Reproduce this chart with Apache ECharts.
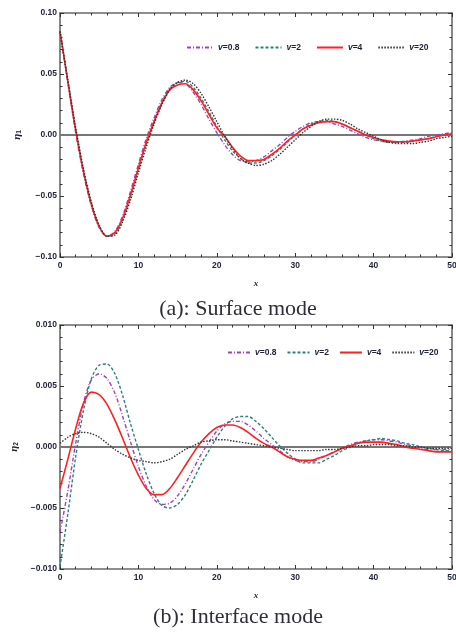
<!DOCTYPE html>
<html>
<head>
<meta charset="utf-8">
<script src="https://cdn.jsdelivr.net/npm/echarts@6/dist/echarts.min.js"></script>
<style>
  html, body { margin: 0; padding: 0; background: #fff; }
  #main { width: 456px; height: 632px; }
</style>
</head>
<body>
<div id="main"></div>
<script>
var chartDom = document.getElementById('main');
var myChart = echarts.init(chartDom);
var option;

// x positions (shared by both panels)
let xs = [0,1,2,3,4,5,6,7,8,9,10,11,12,13,14,15,16,17,18,19,20,21,22,23,24,25,
  26,27,28,29,30,31,32,33,34,35,36,37,38,39,40,41,42,43,44,45,46,47,48,49,50];

let legendNames = ['v=0.8', 'v=2', 'v=4', 'v=20'];

// (a) surface mode, eta1
let eta1_v08 = [0.085,0.043,0.002,-0.032,-0.058,-0.076,-0.083,-0.079,-0.066,-0.046,-0.024,-0.003,0.014,0.029,0.039,0.043,0.042,0.035,0.025,0.013,0.002,
  -0.008,-0.016,-0.021,-0.022,-0.021,-0.018,-0.013,-0.008,-0.002,0.003,0.007,0.010,0.011,0.011,0.009,0.007,0.004,0.001,-0.002,-0.004,
  -0.005,-0.006,-0.006,-0.005,-0.004,-0.003,-0.001,0.000,0.001,0.002];
let eta1_v2 = [0.085,0.044,0.004,-0.030,-0.056,-0.075,-0.083,-0.081,-0.069,-0.050,-0.028,-0.007,0.011,0.027,0.038,0.043,0.044,0.039,0.030,0.019,0.007,
  -0.004,-0.013,-0.019,-0.023,-0.023,-0.021,-0.017,-0.012,-0.006,0.000,0.005,0.009,0.011,0.012,0.011,0.009,0.006,0.003,0.000,-0.003,
  -0.005,-0.006,-0.006,-0.006,-0.005,-0.004,-0.003,-0.001,0.000,0.001];
let eta1_v4 = [0.085,0.044,0.004,-0.030,-0.057,-0.075,-0.083,-0.080,-0.068,-0.049,-0.027,-0.006,0.011,0.026,0.037,0.041,0.042,0.037,0.028,0.017,0.006,
  -0.001,-0.010,-0.017,-0.021,-0.021,-0.020,-0.016,-0.011,-0.005,0.000,0.005,0.008,0.010,0.011,0.011,0.009,0.006,0.003,0.000,-0.002,
  -0.004,-0.005,-0.0055,-0.0055,-0.005,-0.004,-0.003,-0.0015,0.000,0.001];
let eta1_v20 = [0.085,0.045,0.006,-0.028,-0.055,-0.074,-0.083,-0.082,-0.071,-0.053,-0.031,-0.010,0.009,0.025,0.037,0.043,0.045,0.042,0.034,0.023,0.011,
  -0.001,-0.011,-0.019,-0.023,-0.025,-0.024,-0.021,-0.016,-0.010,-0.004,0.002,0.007,0.011,0.013,0.013,0.012,0.009,0.005,0.002,-0.001,
  -0.004,-0.006,-0.007,-0.007,-0.007,-0.006,-0.005,-0.003,-0.002,-0.001];

// (b) interface mode, eta2
let eta2_v08 = [-0.0070,-0.0036,0.0003,0.0036,0.0055,0.0060,0.0056,0.0044,0.0025,0.0004,-0.0016,-0.0032,-0.0043,-0.0047,-0.0046,-0.0040,-0.0030,
  -0.0018,-0.0006,0.0004,0.0013,0.0019,0.0021,0.0021,0.0018,0.0013,0.0007,0.0002,-0.0003,-0.0008,-0.0011,-0.0012,-0.0012,-0.0010,
  -0.0007,-0.0004,-0.0001,0.0002,0.0004,0.0005,0.0006,0.0006,0.0005,0.0004,0.0002,0.0001,-0.0001,-0.0002,-0.0002,-0.0002,-0.0002];
let eta2_v2 = [-0.0098,-0.0055,-0.0008,0.0030,0.0056,0.0067,0.0068,0.0060,0.0042,0.0019,-0.0002,-0.0022,-0.0038,-0.0048,-0.0050,-0.0047,-0.0039,
  -0.0027,-0.0014,-0.0003,0.0008,0.0017,0.0023,0.0025,0.0025,0.0021,0.0015,0.0008,0.0001,-0.0005,-0.0010,-0.0013,-0.0013,-0.0013,
  -0.0010,-0.0007,-0.0003,0.0000,0.0003,0.0005,0.0006,0.0007,0.0006,0.0005,0.0003,0.0002,0.0000,-0.0001,-0.0002,-0.0003,-0.0003];
let eta2_v4 = [-0.0034,-0.0010,0.0015,0.0036,0.0045,0.0043,0.0035,0.0022,0.0007,-0.0009,-0.0023,-0.0034,-0.0039,-0.0039,-0.0034,-0.0025,-0.0015,
  -0.0005,0.0004,0.0011,0.0016,0.0018,0.0018,0.0016,0.0012,0.0007,0.0003,0.0000,-0.0004,-0.0008,-0.0010,-0.0011,-0.0011,-0.0009,
  -0.0007,-0.0004,-0.0001,0.0001,0.0003,0.0004,0.0004,0.0004,0.0003,0.0002,0.0000,-0.0001,-0.0002,-0.0003,-0.0004,-0.0004,-0.0004];
let eta2_v20 = [0.0003,0.0008,0.0011,0.0012,0.0011,0.0008,0.0003,-0.0002,-0.0006,-0.0009,-0.0011,-0.0012,-0.0013,-0.0012,-0.0010,-0.0006,-0.0002,
  0.0001,0.0004,0.0005,0.0006,0.0006,0.0005,0.0004,0.0003,0.0002,0.0001,0.0000,-0.0001,-0.0002,-0.0003,-0.0003,-0.0003,-0.0003,
  -0.0002,-0.0002,-0.0001,0.0000,0.0001,0.0001,0.0002,0.0002,0.0002,0.0001,0.0001,0.0000,0.0000,-0.0001,-0.0001,-0.0001,-0.0001];

let colors = ['#a040c0', '#2f7f7a', '#ff2020', '#333333'];
let dashes = [[4, 2, 1, 2], [3, 2], 'solid', [1.5, 1.5]];

function pairs(arr) {
  return xs.map(function (x, i) { return [x, arr[i]]; });
}

let frameColor = '#6a6a6a';
let labelColor = '#1d2236';

function xAxisFor(gridIndex, bottom) {
  return {
    type: 'value', gridIndex: gridIndex, position: bottom ? 'bottom' : 'top',
    min: 0, max: 50, interval: 10,
    axisLine: { show: true, onZero: false, lineStyle: { color: frameColor, width: 1.6 } },
    axisTick: { show: true, inside: true, length: 4, lineStyle: { color: '#333', width: 1 } },
    minorTick: { show: true, splitNumber: 5, length: 2.5, lineStyle: { color: '#333', width: 1 } },
    splitLine: { show: false },
    axisLabel: { show: bottom, color: labelColor, fontSize: 8.5, fontWeight: 'bold', fontFamily: 'Liberation Sans', margin: 4 },
    name: bottom ? 'x' : '', nameLocation: 'middle', nameGap: 22,
    nameTextStyle: { fontStyle: 'italic', fontWeight: 'bold', fontSize: 9, color: labelColor, fontFamily: 'Liberation Serif' }
  };
}

function yAxisFor(gridIndex, left, lim, step, digits, sub) {
  return {
    type: 'value', gridIndex: gridIndex, position: left ? 'left' : 'right',
    min: -lim, max: lim, interval: step,
    axisLine: { show: true, onZero: false, lineStyle: { color: frameColor, width: 1.6 } },
    axisTick: { show: true, inside: true, length: 4, lineStyle: { color: '#333', width: 1 } },
    minorTick: { show: true, splitNumber: 5, length: 2.5, lineStyle: { color: '#333', width: 1 } },
    splitLine: { show: false },
    axisLabel: {
      show: left, color: labelColor, fontSize: 8.5, fontWeight: 'bold', fontFamily: 'Liberation Sans', margin: 3,
      formatter: function (v) { return v.toFixed(digits).replace('-', '\u2212'); }
    },
    name: left ? '{e|\u03b7}{s|' + sub + '}' : '', nameLocation: 'middle', nameGap: 37, nameRotate: 90,
    nameTextStyle: {
      color: labelColor,
      rich: {
        e: { fontSize: 11, fontStyle: 'italic', fontWeight: 'bold', color: labelColor, fontFamily: 'Liberation Serif' },
        s: { fontSize: 6.5, fontWeight: 'bold', color: labelColor, verticalAlign: 'bottom', padding: [4, 0, 0, 0] }
      }
    }
  };
}

let series = [];
[[eta1_v08, eta1_v2, eta1_v4, eta1_v20], [eta2_v08, eta2_v2, eta2_v4, eta2_v20]].forEach(function (group, g) {
  group.forEach(function (arr, k) {
    let s = {
      name: legendNames[k], type: 'line', xAxisIndex: g * 2, yAxisIndex: g * 2,
      data: pairs(arr), showSymbol: false, symbol: 'none', smooth: 0.3,
      lineStyle: { color: colors[k], width: k === 2 ? 1.6 : 1.4, type: dashes[k] },
      itemStyle: { color: colors[k] },
      z: 3, silent: true
    };
    if (k === 0) {
      s.markLine = {
        silent: true, symbol: 'none', label: { show: false },
        lineStyle: { color: '#777', width: 2, type: 'solid' },
        data: [{ yAxis: 0 }], z: 1
      };
    }
    series.push(s);
  });
});

function legendFor(top, left, w, gap) {
  return {
    top: top, left: left, itemWidth: w, itemHeight: 8, itemGap: gap,
    data: legendNames,
    itemStyle: { opacity: 0 },
    formatter: function (n) { return '{i|v}{b|' + n.slice(1) + '}'; },
    textStyle: {
      fontSize: 8.5, fontWeight: 'bold', color: labelColor, fontFamily: 'Liberation Sans',
      rich: {
        i: { fontSize: 8.5, fontStyle: 'italic', fontWeight: 'bold', color: labelColor, fontFamily: 'Liberation Sans' },
        b: { fontSize: 8.5, fontWeight: 'bold', color: labelColor, fontFamily: 'Liberation Sans' }
      }
    }
  };
}

option = {
  animation: false,
  backgroundColor: '#fff',
  grid: [
    { left: 60, right: 4, top: 13, height: 244, outerBoundsMode: 'none' },
    { left: 60, right: 4, top: 325, height: 244, outerBoundsMode: 'none' }
  ],
  legend: [legendFor(38, 181, 26, 15), legendFor(343, 222, 22, 10)],
  xAxis: [xAxisFor(0, true), xAxisFor(0, false), xAxisFor(1, true), xAxisFor(1, false)],
  yAxis: [
    yAxisFor(0, true, 0.1, 0.05, 2, '1'), yAxisFor(0, false, 0.1, 0.05, 2, '1'),
    yAxisFor(1, true, 0.01, 0.005, 3, '2'), yAxisFor(1, false, 0.01, 0.005, 3, '2')
  ],
  graphic: [
    { type: 'text', x: 238, y: 298, style: { text: '(a): Surface mode', font: '22px "Liberation Serif"', fill: '#2e2e38', textAlign: 'center' } },
    { type: 'text', x: 238, y: 606, style: { text: '(b): Interface mode', font: '22px "Liberation Serif"', fill: '#2e2e38', textAlign: 'center' } }
  ],
  series: series
};

option && myChart.setOption(option);
</script>
</body>
</html>
